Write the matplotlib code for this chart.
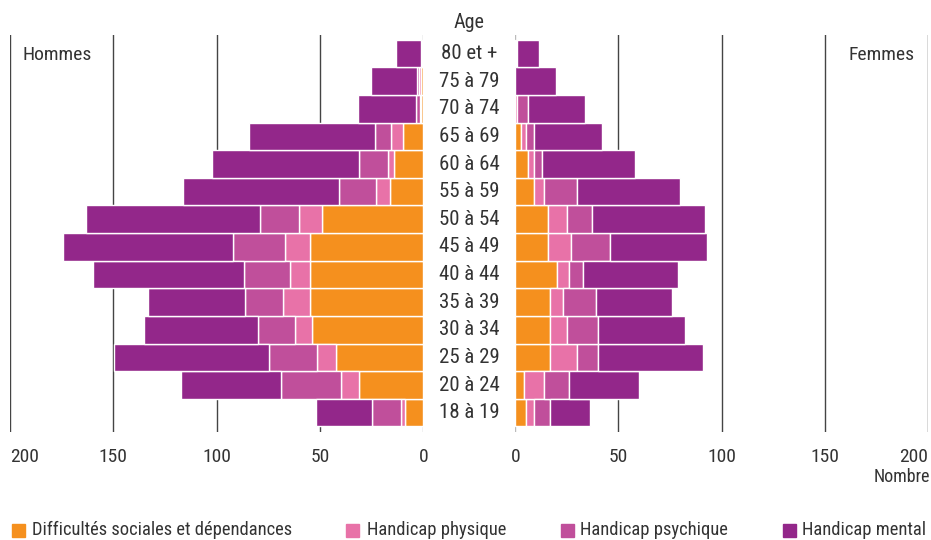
import matplotlib
matplotlib.use("Agg")
import matplotlib.pyplot as plt
from matplotlib.patches import Rectangle
import matplotlib.transforms as mtransforms

plt.rcParams['font.family'] = ['Roboto Condensed', 'DejaVu Sans']

ages = ["18 à 19", "20 à 24", "25 à 29", "30 à 34", "35 à 39", "40 à 44", "45 à 49",
        "50 à 54", "55 à 59", "60 à 64", "65 à 69", "70 à 74", "75 à 79", "80 et +"]

series_names = ["Difficultés sociales et dépendances", "Handicap physique",
                "Handicap psychique", "Handicap mental"]

hommes_social   = [9, 31, 42, 54, 55, 55, 55, 49, 16, 14, 10, 1, 1, 0]
hommes_physique = [2, 9, 9.5, 8, 13, 9.5, 12, 11, 7, 3, 5.5, 0.7, 1, 0.5]
hommes_psychique = [14, 29, 23, 18, 18, 22, 25, 19, 18, 14, 8, 1.7, 1, 0.5]
hommes_mental   = [27, 48, 75, 55, 47, 73, 82, 84, 75, 71, 61, 28, 22.5, 12.4]

femmes_social   = [5, 4, 17, 17, 17, 20, 16, 16, 9, 6, 3, 0, 0, 0]
femmes_physique = [4, 10, 13, 8, 6, 6, 11, 9, 5, 3, 2, 1, 0, 0.5]
femmes_psychique = [8, 12, 10, 15, 16, 7, 19, 12, 16, 4, 4, 5, 0, 0.5]
femmes_mental   = [19, 34, 51, 42, 37, 46, 47, 55, 50, 45, 33, 28, 19.5, 10.6]

xticks = [0, 50, 100, 150, 200]

colors = ["#F5901E", "#E872A8", "#C04F9B", "#93278A"]
text_color = "#333333"
FS = 14

W, H = 931, 540
fig = plt.figure(figsize=(W / 100, H / 100), dpi=100)

def fx(px):
    return px / W

def fy(py):
    return 1 - py / H

ax_top, ax_bot = 35, 431.7
axL = fig.add_axes([fx(9.7), fy(ax_bot), fx(423.3 - 9.7), (ax_bot - ax_top) / H])
axR = fig.add_axes([fx(515.3), fy(ax_bot), fx(928 - 515.3), (ax_bot - ax_top) / H])

y = list(range(len(ages)))
ylim = (-0.69, 13.67)

for ax, data in ((axL, [hommes_social, hommes_physique, hommes_psychique, hommes_mental]),
                 (axR, [femmes_social, femmes_physique, femmes_psychique, femmes_mental])):
    left = [0] * len(ages)
    for vals, c in zip(data, colors):
        ax.barh(y, vals, left=left, height=1.0, color=c, edgecolor="white",
                linewidth=1.0, zorder=3)
        left = [a + b for a, b in zip(left, vals)]
    for t in xticks:
        if t == 0:
            ax.axvline(t, color="#BBBBBB", lw=1.0, zorder=1)
        else:
            ax.axvline(t, color="#444444", lw=1.0, zorder=1)
    ax.set_xlim(0, 200)
    ax.set_ylim(*ylim)
    ax.set_yticks([])
    ax.set_xticks(xticks)
    ax.set_xticklabels([str(t) for t in xticks])
    ax.tick_params(axis="x", length=0, pad=12, labelsize=FS, colors=text_color)
    for s in ax.spines.values():
        s.set_visible(False)
    ax.set_facecolor("none")

axL.invert_xaxis()

lblsL = axL.get_xticklabels()
lblsL[-1].set_horizontalalignment("left")
lblsR = axR.get_xticklabels()
lblsR[-1].set_horizontalalignment("right")

trans = mtransforms.blended_transform_factory(fig.transFigure, axL.transData)
for yi, lab in zip(y, ages):
    fig.text(fx(469), yi, lab, transform=trans, ha="center", va="center",
             fontsize=15, color=text_color)

fig.text(fx(469), fy(22), "Age", ha="center", va="center", fontsize=14.5, color=text_color)
fig.text(fx(23), fy(55), "Hommes", ha="left", va="center", fontsize=FS, color=text_color)
fig.text(fx(882), fy(55), "Femmes", ha="center", va="center", fontsize=FS, color=text_color)
fig.text(fx(930), fy(477), "Nombre", ha="right", va="center", fontsize=13, color=text_color)

leg_sq = [12, 346, 561, 783]
leg_tx = [32, 367, 580, 802]
ly = 530
for sx, tx, name, c in zip(leg_sq, leg_tx, series_names, colors):
    fig.patches.append(Rectangle((fx(sx), fy(ly + 6.5)), fx(13), 13 / H,
                                 transform=fig.transFigure, color=c))
    fig.text(fx(tx), fy(ly), name, ha="left", va="center", fontsize=13.3, color=text_color)

fig.savefig("out.png", dpi=100)
